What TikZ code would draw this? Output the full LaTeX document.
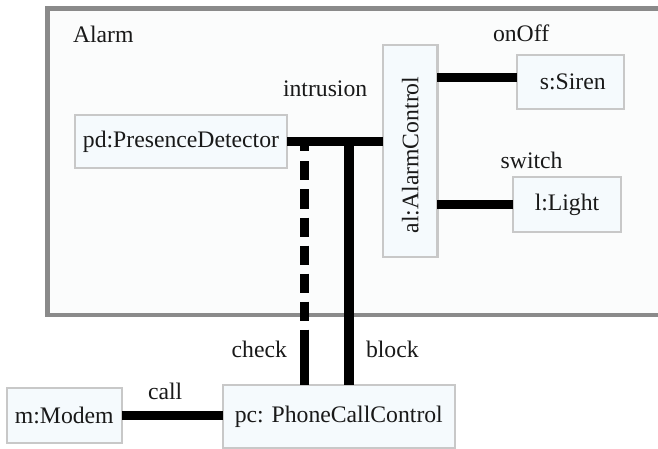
\documentclass[tikz,border=0pt]{standalone}
\usepackage{fontspec}
\setmainfont{Liberation Serif}
\usepackage{graphicx}
\usetikzlibrary{calc}
\definecolor{framegray}{RGB}{138,138,138}
\definecolor{partfill}{RGB}{251,252,252}
\definecolor{boxline}{RGB}{200,200,200}
\definecolor{boxfill}{RGB}{245,250,253}
\definecolor{ink}{RGB}{25,25,25}
\begin{document}
\begin{tikzpicture}[x=1pt,y=-1pt,
  every node/.style={font=\fontsize{23.7}{28}\selectfont, text=ink, inner sep=0pt, outer sep=0pt},
  partbox/.style={draw=boxline, line width=2.5pt, fill=boxfill},
  wire/.style={line width=9pt, draw=black, line cap=butt},
  lbl/.style={anchor=base west}]
  \clip (0,0) rectangle (658,449);
  \useasboundingbox (0,0) rectangle (658,449);
  \fill[white] (0,0) rectangle (658,449);

  % composite structure frame
  \draw[draw=framegray, line width=4.5pt, fill=partfill] (47.5,8.3) rectangle (720,315);
  \node[lbl] (alarmlbl) at (73,43) {Alarm};

  % parts
  \node[partbox, minimum width=212pt, minimum height=53pt] (pd) at (181,141.7) {pd:PresenceDetector};
  \node[partbox, minimum width=54.5pt, minimum height=212pt] (al) at (410.2,151) {\rotatebox{90}{al:AlarmControl\hspace{8pt}}};
  \node[partbox, minimum width=107pt, minimum height=54pt] (siren) at (570.3,82) {\hspace{5pt}s:Siren};
  \node[partbox, minimum width=108pt, minimum height=55pt] (light) at (567,204.5) {l:Light};
  \node[partbox, minimum width=115pt, minimum height=55pt] (modem) at (64.3,415.5) {m:Modem};
  \node[partbox, minimum width=232pt, minimum height=63pt] (pc) at (338.8,416.5) {pc: PhoneCallControl\hspace{6pt}};

  % connectors
  \draw[wire] (pd.east) -- (pd.east -| al.west);
  \draw[wire] ($(siren.west)+(0,-4)$) -- ($(siren.west -| al.east)+(0,-4)$);
  \draw[wire] (light.west) -- (light.west -| al.east);
  \draw[wire] (modem.east) -- (modem.east -| pc.west);

  \coordinate (checktop) at (304,142.5);
  \coordinate (blocktop) at (349,142.5);
  \draw[wire, dash pattern=on 9pt off 10pt on 19pt off 9pt on 19pt off 9pt on 19pt off 9pt on 19pt off 9pt on 19pt off 9pt on 19pt off 9pt on 60pt off 0pt]
    (checktop) -- (checktop |- pc.north);
  \draw[wire, line width=9.5pt] (blocktop) -- (blocktop |- pc.north);

  % port labels
  \node[lbl] (intrusion) at (283,97) {intrusion};
  \node[lbl] (onoff) at (493,42) {onOff};
  \node[lbl] (switch) at (500.7,168) {switch};
  \node[lbl] (call) at (148,399) {call};
  \node[lbl] (check) at (231.7,357) {check};
  \node[lbl] (block) at (366,357) {block};
\end{tikzpicture}
\end{document}
